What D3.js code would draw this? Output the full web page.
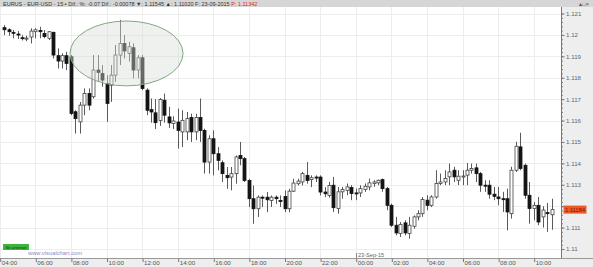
<!DOCTYPE html>
<html><head><meta charset="utf-8">
<script src="https://cdn.jsdelivr.net/npm/d3@7"></script>
<style>html,body{margin:0;padding:0;background:#fff;}svg{display:block;}</style>
</head><body>
<svg id="c" width="593" height="267"></svg>
<script>
// ---- data (EUR-USD, 15 min candles) ----
const startTime = new Date(2015, 8, 22, 4, 0);
const candleMinutes = 15;
const open = [1.12034,1.12024,1.12012,1.12004,1.11987,1.11984,1.11990,1.12015,1.12021,1.12007,
1.11984,1.12012,1.11903,1.11878,1.11903,1.11898,1.11641,1.11594,1.11672,1.11726,
1.11711,1.11836,1.11820,1.11773,1.11765,1.11812,1.11906,1.11960,1.11914,1.11940,
1.11836,1.11893,1.11742,1.11651,1.11636,1.11600,1.11695,1.11617,1.11586,1.11593,
1.11547,1.11547,1.11614,1.11547,1.11614,1.11554,1.11406,1.11515,1.11445,1.11403,
1.11344,1.11336,1.11352,1.11437,1.11422,1.11320,1.11235,1.11188,1.11242,1.11242,
1.11227,1.11242,1.11227,1.11245,1.11188,1.11270,1.11305,1.11313,1.11344,1.11324,
1.11336,1.11336,1.11266,1.11250,1.11298,1.11189,1.11267,1.11274,1.11287,1.11262,
1.11262,1.11278,1.11290,1.11306,1.11309,1.11324,1.11282,1.11204,1.11111,1.11072,
1.11122,1.11072,1.11106,1.11150,1.11165,1.11228,1.11204,1.11243,1.11306,1.11313,
1.11337,1.11368,1.11321,1.11340,1.11345,1.11368,1.11379,1.11352,1.11298,1.11298,
1.11256,1.11243,1.11235,1.11235,1.11165,1.11368,1.11477,1.11391,1.11251,1.11189,
1.11204,1.11150,1.11170,1.11160];
const high = [1.12046,1.12031,1.12023,1.12018,1.11999,1.11996,1.12031,1.12031,1.12038,1.12023,
1.12018,1.12015,1.11937,1.11914,1.11921,1.11906,1.11648,1.11687,1.11750,1.11750,
1.11906,1.11906,1.11859,1.11812,1.11859,1.11953,1.12070,1.11999,1.11968,1.11960,
1.11906,1.11906,1.11750,1.11703,1.11700,1.11705,1.11726,1.11664,1.11620,1.11656,
1.11648,1.11640,1.11632,1.11632,1.11703,1.11562,1.11531,1.11554,1.11476,1.11414,
1.11383,1.11383,1.11437,1.11500,1.11430,1.11328,1.11297,1.11250,1.11250,1.11266,
1.11250,1.11250,1.11250,1.11274,1.11281,1.11328,1.11328,1.11360,1.11406,1.11344,
1.11344,1.11344,1.11289,1.11313,1.11337,1.11290,1.11290,1.11306,1.11298,1.11282,
1.11298,1.11306,1.11329,1.11321,1.11324,1.11329,1.11290,1.11212,1.11150,1.11126,
1.11134,1.11150,1.11157,1.11181,1.11243,1.11251,1.11251,1.11368,1.11352,1.11368,
1.11399,1.11384,1.11368,1.11368,1.11402,1.11399,1.11399,1.11360,1.11321,1.11321,
1.11290,1.11290,1.11267,1.11282,1.11384,1.11501,1.11543,1.11399,1.11313,1.11220,
1.11243,1.11200,1.11215,1.11235];
const low = [1.11999,1.11996,1.11984,1.11981,1.11974,1.11971,1.11960,1.11984,1.11984,1.11984,
1.11976,1.11890,1.11843,1.11843,1.11836,1.11625,1.11539,1.11539,1.11625,1.11648,
1.11703,1.11781,1.11758,1.11594,1.11687,1.11781,1.11859,1.11890,1.11875,1.11797,
1.11797,1.11742,1.11625,1.11590,1.11560,1.11575,1.11590,1.11565,1.11560,1.11469,
1.11476,1.11508,1.11500,1.11508,1.11500,1.11352,1.11352,1.11344,1.11367,1.11313,
1.11281,1.11274,1.11305,1.11391,1.11313,1.11196,1.11118,1.11149,1.11196,1.11172,
1.11196,1.11211,1.11196,1.11172,1.11172,1.11266,1.11297,1.11297,1.11305,1.11289,
1.11313,1.11250,1.11242,1.11240,1.11173,1.11165,1.11235,1.11251,1.11228,1.11228,
1.11243,1.11267,1.11274,1.11290,1.11298,1.11267,1.11181,1.11103,1.11064,1.11056,
1.11064,1.11048,1.11095,1.11134,1.11150,1.11181,1.11196,1.11235,1.11298,1.11298,
1.11298,1.11313,1.11298,1.11298,1.11298,1.11352,1.11313,1.11267,1.11267,1.11235,
1.11228,1.11204,1.11173,1.11087,1.11142,1.11360,1.11368,1.11235,1.11118,1.11134,
1.11111,1.11100,1.11080,1.11090];
const close = [1.12024,1.12015,1.12010,1.12003,1.11986,1.11985,1.12018,1.12024,1.12015,1.11992,
1.12015,1.11906,1.11878,1.11903,1.11867,1.11633,1.11609,1.11672,1.11726,1.11672,
1.11836,1.11825,1.11789,1.11680,1.11812,1.11906,1.11960,1.11925,1.11945,1.11836,
1.11893,1.11750,1.11648,1.11640,1.11590,1.11698,1.11625,1.11589,1.11598,1.11554,
1.11601,1.11609,1.11547,1.11614,1.11554,1.11406,1.11515,1.11445,1.11414,1.11352,
1.11333,1.11352,1.11430,1.11422,1.11320,1.11235,1.11188,1.11242,1.11239,1.11230,
1.11242,1.11235,1.11226,1.11188,1.11270,1.11308,1.11317,1.11352,1.11320,1.11333,
1.11335,1.11266,1.11258,1.11297,1.11193,1.11267,1.11278,1.11290,1.11259,1.11261,
1.11282,1.11293,1.11309,1.11313,1.11321,1.11282,1.11204,1.11111,1.11075,1.11115,
1.11075,1.11111,1.11150,1.11165,1.11231,1.11204,1.11243,1.11306,1.11313,1.11329,
1.11360,1.11337,1.11340,1.11341,1.11368,1.11376,1.11352,1.11298,1.11297,1.11256,
1.11246,1.11235,1.11231,1.11173,1.11368,1.11480,1.11376,1.11251,1.11189,1.11204,
1.11126,1.11182,1.11165,1.11184];
const yTicks = [1.11,1.111,1.112,1.113,1.114,1.115,1.116,1.117,1.118,1.119,1.12,1.121];
const lastPrice = 1.11184;
const headerText = "EURUS - EUR-USD - 15 \u25aa Dif.: %: -0.07 Dif.: -0.00078 \u25bc: 1.11545 \u25b2: 1.11020 F: 23-09-2015 ";
const headerRed = "P: 1.11342";
// highlighted zone (time range, price range)
const zoneTime = [new Date(2015, 8, 22, 7, 57), new Date(2015, 8, 22, 14, 18)];
const zonePrice = [1.12065, 1.11762];

// ---- layout ----
const W = 593, H = 267;
const plotL = 0, plotR = 561, plotT = 7, plotB = 258;
const svg = d3.select("#c");
const font = "'Liberation Sans', Arial, sans-serif";

const times = open.map((_, i) => d3.timeMinute.offset(startTime, candleMinutes * (i + 1)));
const data = open.map((o, i) => ({t: times[i], o, h: high[i], l: low[i], c: close[i]}));

const pxPerHour = 17.8;
const hoursSpan = (plotR + 0.3) / pxPerHour;
const x = d3.scaleTime()
  .domain([startTime, new Date(+startTime + hoursSpan * 3600e3)])
  .range([-0.3, plotR]);
const y = d3.scaleLinear().domain([1.11, 1.121]).range([249, 13.5]);

svg.append("rect").attr("width", W).attr("height", H).attr("fill", "#fff");

// grid
const hourTicks = x.ticks(d3.timeHour.every(2)).filter(d => x(d) < plotR - 2);
const grid = svg.append("g");
grid.selectAll("line.v").data(hourTicks).join("line")
  .attr("x1", d => Math.round(x(d)) + 0.5).attr("x2", d => Math.round(x(d)) + 0.5)
  .attr("y1", plotT).attr("y2", plotB).attr("stroke", "#ededed").attr("stroke-width", 1);
grid.selectAll("line.h").data(yTicks).join("line")
  .attr("x1", plotL).attr("x2", plotR)
  .attr("y1", d => Math.round(y(d)) + 0.5).attr("y2", d => Math.round(y(d)) + 0.5)
  .attr("stroke", "#ededed").attr("stroke-width", 1);

// candles
const bw = 3;
const cg = svg.append("g");
cg.selectAll("line.w").data(data).join("line")
  .attr("x1", d => Math.round(x(d.t)) + 0.5).attr("x2", d => Math.round(x(d.t)) + 0.5)
  .attr("y1", d => y(d.h)).attr("y2", d => y(d.l))
  .attr("stroke", "#5a5a5a").attr("stroke-width", 1);
cg.selectAll("rect.b").data(data).join("rect")
  .attr("x", d => Math.round(x(d.t)) + 0.5 - bw / 2)
  .attr("y", d => y(Math.max(d.o, d.c)))
  .attr("width", bw)
  .attr("height", d => Math.max(1, Math.abs(y(d.o) - y(d.c))))
  .attr("fill", d => d.c < d.o ? "#141414" : "#fff")
  .attr("stroke", d => d.c < d.o ? "#141414" : "#444")
  .attr("stroke-width", 0.8);

// highlighted ellipse zone
const ex0 = x(zoneTime[0]), ex1 = x(zoneTime[1]);
const ey0 = y(zonePrice[0]), ey1 = y(zonePrice[1]);
svg.append("ellipse")
  .attr("cx", (ex0 + ex1) / 2).attr("cy", (ey0 + ey1) / 2)
  .attr("rx", (ex1 - ex0) / 2).attr("ry", (ey1 - ey0) / 2)
  .attr("fill", "rgba(215,222,215,0.42)").attr("stroke", "#82a882").attr("stroke-width", 1);

// header bar
svg.append("rect").attr("x", 0).attr("y", 0).attr("width", W).attr("height", plotT)
  .attr("fill", "#d6d6d6");
const ht = svg.append("text").attr("x", 3).attr("y", 5.6)
  .attr("font-family", font).attr("font-size", 5.5).attr("fill", "#333");
ht.append("tspan").text(headerText);
ht.append("tspan").attr("fill", "#e0251b").text(headerRed);
svg.append("text").attr("x", 589).attr("y", 5.6).attr("text-anchor", "end")
  .attr("font-family", font).attr("font-size", 5.6).attr("fill", "#555").text("\u25b4\u25a1\u00d7");

// right axis panel
svg.append("rect").attr("x", plotR).attr("y", plotT).attr("width", W - plotR).attr("height", plotB - plotT)
  .attr("fill", "#eeeeee");
const minorTicks = d3.range(0, 56).map(k => 1.11 + k * 0.0002);
const ly = y(lastPrice);
const ay = svg.append("g").attr("transform", `translate(${plotR + 0.5},0)`);
ay.append("g").call(d3.axisRight(y).tickValues(minorTicks).tickSize(1.5).tickFormat(""))
  .call(g => g.select(".domain").remove())
  .call(g => g.selectAll("line").attr("stroke", "#888"));
ay.append("g").call(d3.axisRight(y).tickValues(yTicks).tickSize(3).tickPadding(1.5)
    .tickFormat(d => Math.abs(y(d) - ly) < 7 ? "" : d3.format(".3~f")(d)))
  .call(g => g.select(".domain").attr("stroke", "#777").attr("d", `M0,${plotT}V${plotB}`))
  .call(g => g.selectAll("line").attr("stroke", "#777"))
  .call(g => g.selectAll("text").attr("font-family", font).attr("font-size", 6.2).attr("fill", "#666"));

// last price label
svg.append("rect").attr("x", 563.5).attr("y", ly - 4).attr("width", 23).attr("height", 8)
  .attr("fill", "#ec5a2a");
svg.append("text").attr("x", 575).attr("y", ly + 2.2).attr("text-anchor", "middle")
  .attr("font-family", font).attr("font-size", 5.8).attr("fill", "#7a1600").text(lastPrice.toFixed(5));

// bottom axis bar
svg.append("rect").attr("x", 0).attr("y", plotB).attr("width", W).attr("height", H - plotB)
  .attr("fill", "#eeeeee");
svg.append("line").attr("x1", 0).attr("x2", W).attr("y1", plotB + 0.5).attr("y2", plotB + 0.5)
  .attr("stroke", "#999");
const ax = svg.append("g").attr("transform", `translate(0,${plotB})`);
ax.call(d3.axisBottom(x).tickValues(hourTicks).tickSize(3.5).tickFormat(d3.timeFormat("%H:%M")))
  .call(g => g.select(".domain").remove())
  .call(g => g.selectAll("line").attr("stroke", "#777").attr("transform", "translate(0.5,0.5)"))
  .call(g => g.selectAll("text").attr("text-anchor", "start").attr("dx", 1.5).attr("y", 3)
    .attr("dy", "0.71em").attr("font-family", font).attr("font-size", 6.2).attr("fill", "#555"));

// date label
const dayStart = new Date(2015, 8, 23, 0, 0);
const dx = Math.round(x(dayStart)) + 0.5;
svg.append("line").attr("x1", dx).attr("x2", dx).attr("y1", plotB - 5).attr("y2", plotB)
  .attr("stroke", "#888");
svg.append("text").attr("x", dx + 1.5).attr("y", plotB - 1.5)
  .attr("font-family", font).attr("font-size", 5.6).attr("fill", "#666")
  .text(d3.timeFormat("%d-%b-%y")(dayStart));

// bottom-left tags
svg.append("rect").attr("x", 3).attr("y", 244).attr("width", 26).attr("height", 6).attr("fill", "#3db53d");
svg.append("text").attr("x", 16).attr("y", 248.6).attr("text-anchor", "middle")
  .attr("font-family", font).attr("font-size", 4.4).attr("fill", "#0d3d0d").text("Sit anterior");
svg.append("text").attr("x", 28).attr("y", 254.5)
  .attr("font-family", font).attr("font-size", 5.8).attr("fill", "#8c8cc4").text("www.visualchart.com");
</script>
</body></html>
